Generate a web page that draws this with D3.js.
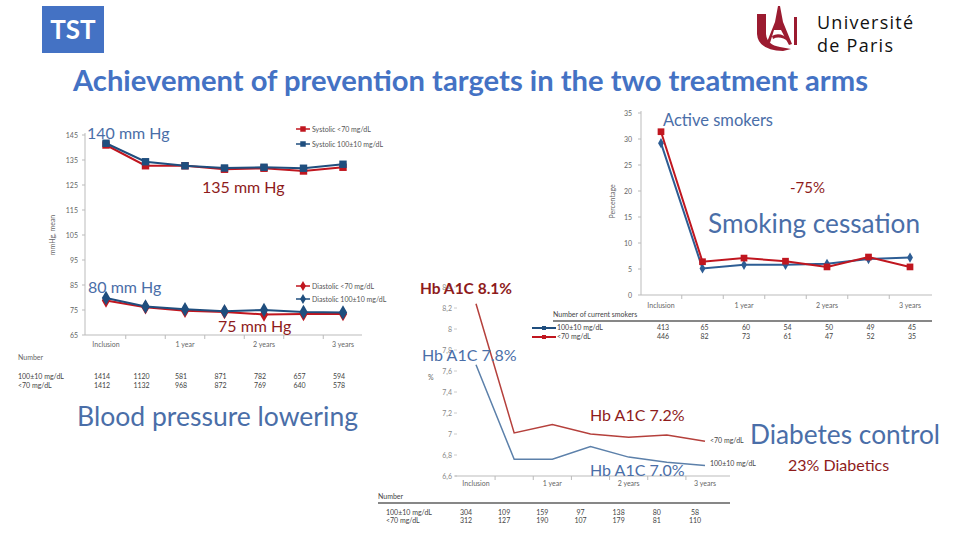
<!DOCTYPE html>
<html>
<head>
<meta charset="utf-8">
<script src="https://cdn.jsdelivr.net/npm/d3@7"></script>
<style>
  body { margin: 0; background: #fff; }
  svg { display: block; font-family: Lato, 'Open Sans', sans-serif; }
  .small { font-size: 7px; fill: #666; }
  .note { font-family: Lato, sans-serif; }
</style>
</head>
<body>
<div id="chart"></div>
<script>
// Data
const periods = ['Inclusion', '6 months', '1 year', '18 months', '2 years', '30 months', '3 years'];
const periodLabels = ['Inclusion', '', '1 year', '', '2 years', '', '3 years'];

// blood pressure (mmHg, mean)
const systolicLow = [141.0, 132.7, 132.7, 131.3, 131.7, 130.6, 132.1];
const systolicStd = [141.7, 134.3, 132.7, 131.8, 132.1, 131.7, 133.3];
const diastolicLow = [78.8, 76.1, 74.7, 74.2, 73.2, 73.4, 73.4];
const diastolicStd = [79.8, 76.4, 75.3, 74.5, 75.0, 74.2, 74.0];
const bpNumberStd = [1414, 1120, 581, 871, 782, 657, 594];
const bpNumberLow = [1412, 1132, 968, 872, 769, 640, 578];

// active smokers (percentage)
const smokersStd = [29.2, 5.1, 5.8, 5.8, 6.0, 6.9, 7.2];
const smokersLow = [31.4, 6.4, 7.1, 6.5, 5.4, 7.3, 5.4];
const smokeNumberStd = [413, 65, 60, 54, 50, 49, 45];
const smokeNumberLow = [446, 82, 73, 61, 47, 52, 35];

// HbA1c (%)
const hba1cLow = [8.24, 7.01, 7.09, 7.0, 6.97, 6.99, 6.93];
const hba1cStd = [7.66, 6.76, 6.76, 6.88, 6.78, 6.73, 6.70];
const dmNumberStd = [304, 109, 159, 97, 138, 80, 58];
const dmNumberLow = [312, 127, 190, 107, 179, 81, 110];

const red = '#c0161f';
const blue = '#1f4e7e';
const noteBlue = '#4a6ea8';
const noteRed = '#8e1b1b';
const titleBlue = '#4472c4';

const width = 960;
const height = 540;

const svg = d3
  .select('#chart')
  .append('svg')
  .attr('width', width)
  .attr('height', height)
  .attr('viewBox', [0, 0, width, height]);

// ---------- header ----------
svg.append('rect').attr('x', 42).attr('y', 6).attr('width', 62).attr('height', 47).attr('fill', titleBlue);
svg
  .append('text')
  .attr('x', 73)
  .attr('y', 39)
  .attr('text-anchor', 'middle')
  .attr('fill', '#fff')
  .style('font-size', '26px')
  .style('font-weight', 700)
  .text('TST');

svg
  .append('text')
  .attr('x', 73)
  .attr('y', 91)
  .attr('fill', titleBlue)
  .attr('textLength', 795)
  .attr('lengthAdjust', 'spacingAndGlyphs')
  .style('font-size', '28px')
  .style('font-weight', 700)
  .text('Achievement of prevention targets in the two treatment arms');

// logo
const logo = svg.append('g').attr('fill', '#9b1b30');
logo.append('path').attr('d', 'M757,14 L766,14 L766,34 Q767,45 780,47 L791,49 L783,51 Q758,50 757,34 Z');
logo.append('path').attr('d', 'M778,6 L780,6 L783,22 L792,44 L789,45 L781,30 L774,30 L770,43 L767,42 L775,22 Z');
logo.append('path').attr('d', 'M772,36 Q780,31 790,40 L789,42 Q780,35 773,39 Z');
logo.append('rect').attr('x', 794).attr('y', 17).attr('width', 3).attr('height', 28);
svg
  .append('text')
  .attr('x', 817)
  .attr('y', 29)
  .style('font-family', "'Open Sans', sans-serif")
  .style('font-size', '18px')
  .attr('textLength', 96)
  .attr('fill', '#111')
  .text('Université');
svg
  .append('text')
  .attr('x', 817)
  .attr('y', 52)
  .style('font-family', "'Open Sans', sans-serif")
  .style('font-size', '18px')
  .attr('textLength', 76)
  .attr('fill', '#111')
  .text('de Paris');

// helpers
function marker(g, shape, x, y, size, color) {
  const sym = shape === 'square' ? d3.symbolSquare : d3.symbolDiamond;
  g.append('path')
    .attr('transform', `translate(${x},${y})`)
    .attr('d', d3.symbol(sym, size)())
    .attr('fill', color);
}

function drawSeries(g, xs, ys, values, color, shape, size, lw) {
  const line = d3
    .line()
    .x((d, i) => xs(periods[i]))
    .y((d) => ys(d));
  g.append('path').attr('d', line(values)).attr('fill', 'none').attr('stroke', color).attr('stroke-width', lw);
  if (shape) values.forEach((v, i) => marker(g, shape, xs(periods[i]), ys(v), size, color));
}

function categoryAxis(g, xs, y, x0, x1, labelY) {
  const step = xs.step();
  g.append('line').attr('x1', x0).attr('x2', x1).attr('y1', y).attr('y2', y).attr('stroke', '#bbb');
  periods.slice(0, -1).forEach((p) => {
    const tx = xs(p) + step / 2;
    g.append('line').attr('x1', tx).attr('x2', tx).attr('y1', y).attr('y2', y + 4).attr('stroke', '#bbb');
  });
  periods.forEach((p, i) => {
    g.append('text')
      .attr('class', 'small')
      .attr('x', xs(p))
      .attr('y', labelY)
      .attr('text-anchor', 'middle')
      .text(periodLabels[i]);
  });
}

function numberRows(g, xs, y1, y2, row1, row2, offset) {
  row1.forEach((v, i) => {
    g.append('text').attr('class', 'small').attr('x', xs(periods[i]) + offset).attr('y', y1).attr('text-anchor', 'middle').style('fill', '#444').text(v);
  });
  row2.forEach((v, i) => {
    g.append('text').attr('class', 'small').attr('x', xs(periods[i]) + offset).attr('y', y2).attr('text-anchor', 'middle').style('fill', '#444').text(v);
  });
}

function note(x, y, txt, color, size, weight, len) {
  const t = svg
    .append('text')
    .attr('class', 'note')
    .attr('x', x)
    .attr('y', y)
    .attr('fill', color)
    .style('font-size', `${size}px`)
    .style('font-weight', weight || 400)
    .text(txt);
  if (len) t.attr('textLength', len).attr('lengthAdjust', 'spacingAndGlyphs');
}

// ---------- blood pressure ----------
const bp = svg.append('g');
const xBp = d3.scalePoint().domain(periods).range([106, 343]);
const yBp = d3.scaleLinear().domain([65, 145]).range([335, 135]);

bp.append('line').attr('x1', 85).attr('x2', 85).attr('y1', 133).attr('y2', 335).attr('stroke', '#bbb');
d3.range(65, 146, 10).forEach((t) => {
  bp.append('line').attr('x1', 82).attr('x2', 85).attr('y1', yBp(t)).attr('y2', yBp(t)).attr('stroke', '#bbb');
  bp.append('text').attr('class', 'small').attr('x', 78).attr('y', yBp(t) + 2.5).attr('text-anchor', 'end').text(t);
});
categoryAxis(bp, xBp, 335, 85, 362, 347);
bp.append('text')
  .attr('class', 'small')
  .attr('transform', `translate(55,${yBp(105)})rotate(-90)`)
  .attr('text-anchor', 'middle')
  .text('mmHg, mean');

drawSeries(bp, xBp, yBp, systolicLow, red, 'square', 55, 2);
drawSeries(bp, xBp, yBp, systolicStd, blue, 'square', 55, 2);
drawSeries(bp, xBp, yBp, diastolicLow, red, 'diamond', 60, 2);
drawSeries(bp, xBp, yBp, diastolicStd, blue, 'diamond', 60, 2);

const bpLegend = [
  ['Systolic <70 mg/dL', red, 'square', 129],
  ['Systolic 100±10 mg/dL', blue, 'square', 144],
  ['Diastolic <70 mg/dL', red, 'diamond', 286],
  ['Diastolic 100±10 mg/dL', blue, 'diamond', 299],
];
bpLegend.forEach(([label, color, shape, ly]) => {
  bp.append('line').attr('x1', 296).attr('x2', 310).attr('y1', ly).attr('y2', ly).attr('stroke', color).attr('stroke-width', 1.5);
  marker(bp, shape, 303, ly, 30, color);
  bp.append('text').attr('class', 'small').attr('x', 312).attr('y', ly + 2.5).style('fill', '#555').text(label);
});

bp.append('text').attr('class', 'small').attr('x', 18).attr('y', 360).text('Number');
bp.append('text').attr('class', 'small').attr('x', 18).attr('y', 379).style('fill', '#444').text('100±10 mg/dL');
bp.append('text').attr('class', 'small').attr('x', 18).attr('y', 388).style('fill', '#444').text('<70 mg/dL');
numberRows(bp, xBp, 379, 388, bpNumberStd, bpNumberLow, -4);

note(87, 139, '140 mm Hg', noteBlue, 16);
note(202, 193, '135 mm Hg', noteRed, 16);
note(88, 293, '80 mm Hg', noteBlue, 16);
note(218, 332, '75 mm Hg', noteRed, 16);
note(77, 426, 'Blood pressure lowering', noteBlue, 26, 400, 281);

// ---------- smoking ----------
const sm = svg.append('g');
const xSm = d3.scalePoint().domain(periods).range([661, 910]);
const ySm = d3.scaleLinear().domain([0, 35]).range([295, 113]);

sm.append('line').attr('x1', 641).attr('x2', 641).attr('y1', 111).attr('y2', 295).attr('stroke', '#bbb');
d3.range(0, 36, 5).forEach((t) => {
  sm.append('line').attr('x1', 638).attr('x2', 641).attr('y1', ySm(t)).attr('y2', ySm(t)).attr('stroke', '#bbb');
  sm.append('text').attr('class', 'small').attr('x', 632).attr('y', ySm(t) + 2.5).attr('text-anchor', 'end').text(t);
});
categoryAxis(sm, xSm, 295, 641, 932, 308);
sm.append('text')
  .attr('class', 'small')
  .attr('transform', `translate(615,${ySm(18)})rotate(-90)`)
  .attr('text-anchor', 'middle')
  .text('Percentage');

drawSeries(sm, xSm, ySm, smokersStd, '#2d5d94', 'diamond', 30, 2);
drawSeries(sm, xSm, ySm, smokersLow, red, 'square', 45, 2);

sm.append('text').attr('class', 'small').attr('x', 553).attr('y', 317).style('fill', '#444').text('Number of current smokers');
sm.append('line').attr('x1', 553).attr('x2', 932).attr('y1', 321).attr('y2', 321).attr('stroke', '#111').attr('stroke-width', 1.2);
[['100±10 mg/dL', blue, 330], ['<70 mg/dL', red, 339]].forEach(([label, color, ly]) => {
  sm.append('line').attr('x1', 532).attr('x2', 556).attr('y1', ly - 2).attr('y2', ly - 2).attr('stroke', color).attr('stroke-width', 2);
  marker(sm, 'square', 544, ly - 2, 16, color);
  sm.append('text').attr('class', 'small').attr('x', 557).attr('y', ly).style('fill', '#444').text(label);
});
numberRows(sm, xSm, 330, 339, smokeNumberStd, smokeNumberLow, 2);

note(663, 126, 'Active smokers', noteBlue, 16.5);
note(790, 193, '-75%', noteRed, 15);
note(708, 233, 'Smoking cessation', noteBlue, 26, 400, 212);

// ---------- diabetes ----------
const dm = svg.append('g');
const xDm = d3.scalePoint().domain(periods).range([476, 705]);
const yDm = d3.scaleLinear().domain([6.6, 8.4]).range([476, 287]);
const comma = (t) => d3.format('~g')(t).replace('.', ',');

d3.range(6.6, 8.41, 0.2).forEach((t) => {
  dm.append('line').attr('x1', 454).attr('x2', 457).attr('y1', yDm(t)).attr('y2', yDm(t)).attr('stroke', '#ccc');
  dm.append('text').attr('class', 'small').attr('x', 452).attr('y', yDm(t) + 2.5).attr('text-anchor', 'end').style('fill', '#888').text(comma(+t.toFixed(1)));
});
categoryAxis(dm, xDm, 476, 455, 730, 486);
dm.append('text').attr('class', 'small').attr('x', 428).attr('y', 380).text('%');

drawSeries(dm, xDm, yDm, hba1cLow, '#b5403c', null, 0, 1.5);
drawSeries(dm, xDm, yDm, hba1cStd, '#5c80aa', null, 0, 1.5);

dm.append('text').attr('class', 'small').attr('x', 710).attr('y', 443).style('fill', '#444').text('<70 mg/dL');
dm.append('text').attr('class', 'small').attr('x', 710).attr('y', 466).style('fill', '#444').text('100±10 mg/dL');

dm.append('text').attr('class', 'small').attr('x', 378).attr('y', 499).style('fill', '#444').text('Number');
dm.append('line').attr('x1', 378).attr('x2', 730).attr('y1', 503).attr('y2', 503).attr('stroke', '#111').attr('stroke-width', 1.2);
dm.append('text').attr('class', 'small').attr('x', 386).attr('y', 515).style('fill', '#444').text('100±10 mg/dL');
dm.append('text').attr('class', 'small').attr('x', 386).attr('y', 523).style('fill', '#444').text('<70 mg/dL');
numberRows(dm, xDm, 515, 523, dmNumberStd, dmNumberLow, -10);

note(420, 294, 'Hb A1C 8.1%', noteRed, 15.5, 700);
note(422, 361, 'Hb A1C 7.8%', noteBlue, 16);
note(590, 421, 'Hb A1C 7.2%', noteRed, 16);
note(590, 476, 'Hb A1C 7.0%', noteBlue, 16);
note(750, 444, 'Diabetes control', noteBlue, 26, 400, 190);
note(788, 471, '23% Diabetics', noteRed, 16);
</script>
</body>
</html>
